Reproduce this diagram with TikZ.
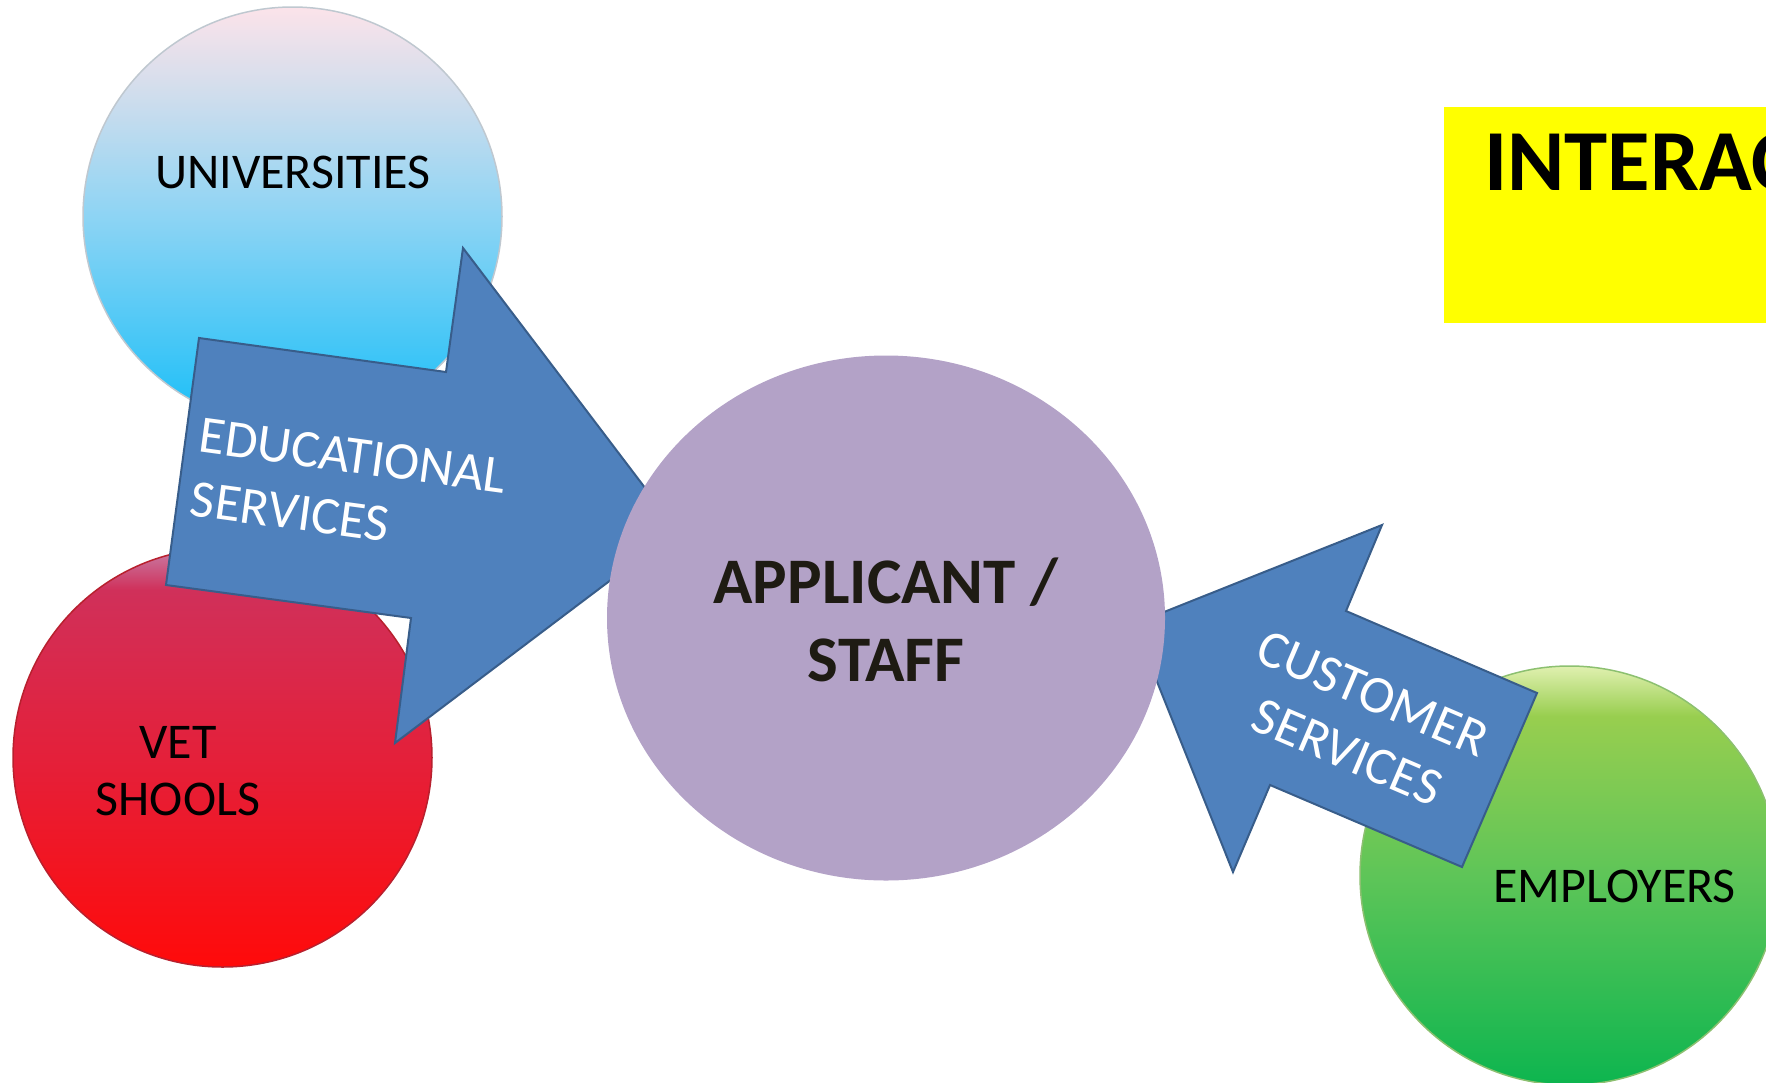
\documentclass[tikz,border=0pt]{standalone}
\usepackage{fontspec}
\setmainfont{Carlito}
\usetikzlibrary{shapes.geometric}
\definecolor{uT}{HTML}{FCE3EA}
\definecolor{uT2}{HTML}{D6DEEC}
\definecolor{uM}{HTML}{8DD4F4}
\definecolor{uB}{HTML}{17BEF8}
\definecolor{unirim}{HTML}{BFC8D0}
\definecolor{vT}{HTML}{C77FA8}
\definecolor{vT2}{HTML}{D0305A}
\definecolor{vM}{HTML}{E4203A}
\definecolor{vB}{HTML}{FF0A0A}
\definecolor{vetrim}{HTML}{B8202E}
\definecolor{eT}{HTML}{E0F0B0}
\definecolor{eT2}{HTML}{98CE4F}
\definecolor{eM}{HTML}{5EC558}
\definecolor{eB}{HTML}{0DB54F}
\definecolor{emprim}{HTML}{8CC070}
\definecolor{arrowblue}{HTML}{4F81BD}
\definecolor{arrowedge}{HTML}{385D8A}
\definecolor{applicant}{HTML}{B3A2C7}
\definecolor{apptext}{HTML}{1E1B13}
\definecolor{titleyellow}{HTML}{FFFF00}
\pgfdeclareverticalshading{unishade}{100bp}{color(0bp)=(uB); color(25bp)=(uB); color(50bp)=(uM); color(66bp)=(uT2); color(75bp)=(uT); color(100bp)=(uT)}
\pgfdeclareverticalshading{vetshade}{100bp}{color(0bp)=(vB); color(25bp)=(vB); color(50bp)=(vM); color(70bp)=(vT2); color(75bp)=(vT); color(100bp)=(vT)}
\pgfdeclareverticalshading{empshade}{100bp}{color(0bp)=(eB); color(25bp)=(eB); color(50bp)=(eM); color(69bp)=(eT2); color(75bp)=(eT); color(100bp)=(eT)}
\begin{document}
\begin{tikzpicture}[x=1pt,y=-1pt,
  bubble/.style={circle, minimum size=419pt, inner sep=0pt, line width=1.5pt},
  blockarrow/.style={fill=arrowblue, draw=arrowedge, line width=2pt, line join=miter},
  circlabel/.style={font=\fontsize{50}{57}\selectfont, text=black, inner sep=0pt},
  arrowlabel/.style={font=\fontsize{53}{64}\selectfont, text=white, inner sep=0pt}]
\useasboundingbox (0,0) rectangle (1766,1082);
\clip (0,0) rectangle (1766,1082);
% circles
\node[bubble, shading=unishade, draw=unirim] (uni) at (292.5,216.5) {};
\node[bubble, shading=vetshade, draw=vetrim] (vet) at (222.5,757.5) {};
\node[bubble, shading=empshade, draw=emprim] (emp) at (1569.5,875.5) {};
\node[circlabel, anchor=base] (unitext) at (293,188) {UNIVERSITIES};
\node[circlabel, align=center] (vettext) at (178,771) {VET\\SHOOLS};
\node[circlabel, anchor=base] (emptext) at (1614.5,902) {EMPLOYERS};
% title box
\node[fill=titleyellow, anchor=north west, minimum width=360pt, minimum height=216pt, inner sep=0pt] (titlebox) at (1444,107) {};
\node[font=\bfseries\fontsize{87}{104}\selectfont, anchor=base west, inner sep=0pt] (title) at (1484,190) {INTERACTION};
% block arrows
\draw[blockarrow] (199,338) -- (446,372) -- (463,248) -- (677,530) -- (395,743) -- (411,618) -- (166,585) -- cycle;
\draw[blockarrow] (1134,624) -- (1382,525) -- (1346,611) -- (1537,693) -- (1462,867) -- (1270,785) -- (1233,872) -- cycle;
\node[arrowlabel, align=left, rotate=-7.75] (edutext) at (348.5,487.5) {EDUCATIONAL\\SERVICES};
\node[arrowlabel, align=center, rotate=-23.2] (custtext) at (1360,723) {CUSTOMER\\SERVICES};
% applicant
\node[ellipse, fill=applicant, minimum width=558pt, minimum height=525pt, inner sep=0pt] (app) at (886,618) {};
\node[font=\bfseries\fontsize{65}{78}\selectfont, text=apptext, align=center, inner sep=0pt] (apptxt) at (886,620) {APPLICANT /\\STAFF};
\end{tikzpicture}
\end{document}
